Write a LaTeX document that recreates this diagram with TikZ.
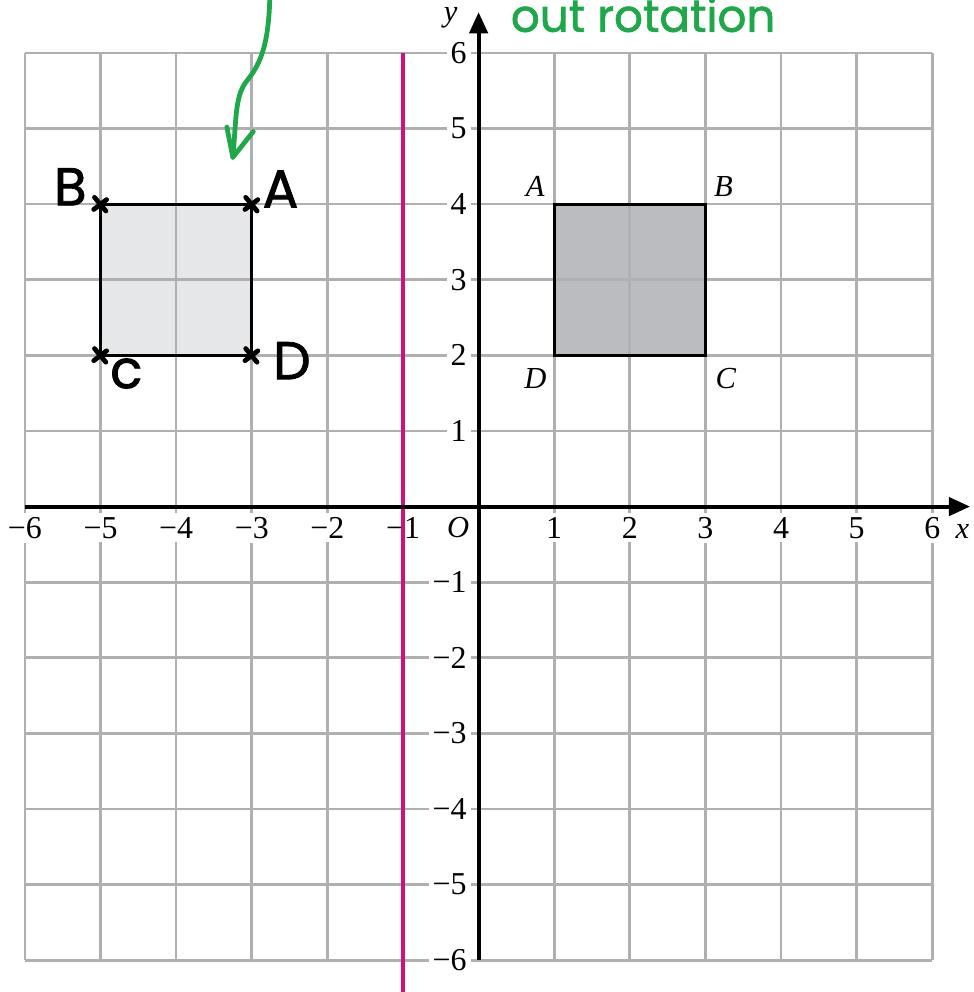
\documentclass[tikz,border=0pt]{standalone}
\usepackage{fontspec}
\setmainfont{Liberation Serif}
\newfontfamily\handfont[FakeBold=1.5]{Poppins}
\usepackage{xcolor}
\definecolor{gridgray}{RGB}{176,176,179}
\definecolor{mirrorpink}{RGB}{208,16,127}
\definecolor{pengreen}{RGB}{30,168,74}
\definecolor{shapelight}{RGB}{230,231,233}
\definecolor{shapedark}{RGB}{187,188,192}
\usepackage{tikz}
\usetikzlibrary{arrows.meta}

\tikzset{
  numlbl/.style={fill=white, inner sep=1.5pt, font=\fontsize{12}{14}\selectfont},
  vertlbl/.style={font=\fontsize{11.5}{13}\selectfont\itshape},
  handlbl/.style={font=\handfont\fontsize{20}{22}\selectfont},
  axisline/.style={line width=1.5pt, -{Triangle[length=0.28cm,width=0.24cm]}},
  penline/.style={line width=1.8pt, line cap=round, line join=round}
}

\begin{document}
\begin{tikzpicture}[x=1cm, y=1cm]
  \useasboundingbox (-6.33,-6.42) rectangle (6.54,6.70);
  \clip (-6.33,-6.42) rectangle (6.54,6.70);

  % Square fills
  \fill[shapelight] (-5,2) rectangle (-3,4);
  \fill[shapedark] (1,2) rectangle (3,4);

  % Grid
  \draw[gridgray, line width=1pt] (-6,-6) grid (6,6);

  % Square outlines
  \draw[line width=1.1pt] (-5,2) rectangle (-3,4);
  \draw[line width=1.1pt] (1,2) rectangle (3,4);

  % Axis numbers
  \foreach \i in {1,...,6} {
    \node[numlbl, anchor=north] (xp\i) at (\i,-0.08) {\i};
    \node[numlbl, anchor=north] (xn\i) at (-\i,-0.08) {−\i};
    \node[numlbl, anchor=east] (yp\i) at (-0.1,\i) {\i};
    \node[numlbl, anchor=east] (yn\i) at (-0.1,-\i) {−\i};
  }
  \node[vertlbl] (origin) at (-0.27,-0.28) {O};

  % Mirror line x = -1
  \draw[mirrorpink, line width=1.2pt] (-1,6) -- (-1,-6.5);

  % Axes
  \coordinate (xstart) at (-6,0);
  \coordinate (xend) at (6.5,0);
  \coordinate (ystart) at (0,-6);
  \coordinate (yend) at (0,6.54);
  \draw[axisline] (xstart) -- (xend);
  \draw[axisline] (ystart) -- (yend);
  \node[vertlbl] (xname) at (6.4,-0.33) {x};
  \node[vertlbl] (yname) at (-0.37,6.46) {y};

  % Square ABCD
  \node[vertlbl] (ra) at (0.75,4.23) {A};
  \node[vertlbl] (rb) at (3.24,4.23) {B};
  \node[vertlbl] (rc) at (3.27,1.70) {C};
  \node[vertlbl] (rd) at (0.75,1.70) {D};

  % Handwritten image
  \foreach \p in {(-5,4),(-3,4),(-5,2),(-3,2)} {
    \draw[penline] \p ++(-0.08,0.09) -- ++(0.15,-0.18);
    \draw[penline] \p ++(-0.09,-0.07) -- ++(0.17,0.13);
  }
  \node[handlbl] (lb) at (-5.40,4.23) {B};
  \node[handlbl] (la) at (-2.62,4.20) {A};
  \node[handlbl] (lc) at (-4.66,1.76) {c};
  \node[handlbl] (ld) at (-2.47,1.93) {D};

  % Green note
  \coordinate (penstart) at (-2.76,6.80);
  \coordinate (pentip) at (-3.25,4.62);
  \draw[pengreen, penline] (penstart) .. controls (-2.77,6.2) and (-2.85,5.9) .. (-3.05,5.65)
    .. controls (-3.22,5.45) and (-3.20,5.2) .. (pentip);
  \draw[pengreen, penline] (-3.33,5.02) -- (pentip) -- (-2.98,4.96);
  \node[pengreen, handlbl, font=\handfont\fontsize{17}{19}\selectfont, anchor=base west, inner sep=0pt] (note) at (0.42,6.28) {out rotation};
\end{tikzpicture}
\end{document}
